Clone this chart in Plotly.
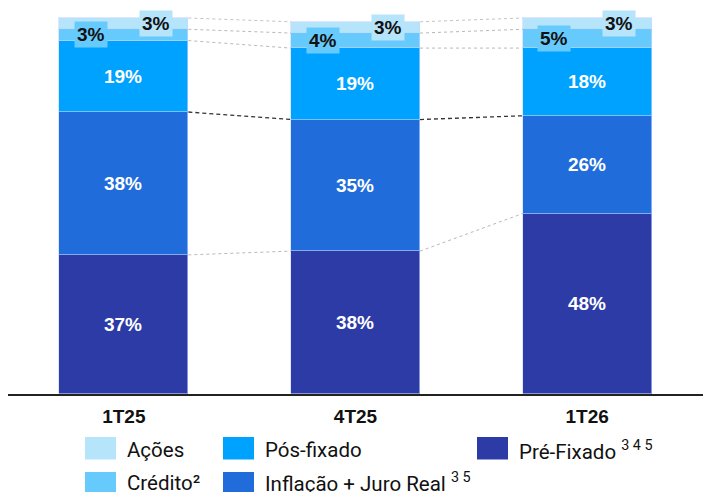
import plotly.graph_objects as go

# Quarters and allocation (% of portfolio) by asset class
periods = ["1T25", "4T25", "1T26"]
pre_fixado = [37, 38, 48]
inflacao = [38, 35, 26]
pos_fixado = [19, 19, 18]
credito = [3, 4, 5]
acoes = [3, 3, 3]

series = [
    ("Pré-Fixado <sup>3 4 5</sup>", pre_fixado, "#2D3BA6"),
    ("Inflação + Juro Real <sup>3 5</sup>", inflacao, "#216CDB"),
    ("Pós-fixado", pos_fixado, "#00A2FF"),
    ("Crédito²", credito, "#66CBFC"),
    ("Ações", acoes, "#B5E4FB"),
]

BAR_W = 0.557
LABEL_FONT = "Liberation Sans, Arial, sans-serif"
LEGEND_FONT = "Roboto, sans-serif"

xs = list(range(len(periods)))
fig = go.Figure()

# stacked bars; the three large classes carry their own inside labels
for i, (name, vals, color) in enumerate(series):
    big = i < 3
    fig.add_trace(go.Bar(
        x=xs, y=vals, name=name, width=BAR_W,
        marker=dict(color=color, line=dict(color="rgba(200,215,255,0.6)", width=1)),
        text=[f"{v}%" for v in vals] if big else None,
        textposition="inside" if big else "none",
        insidetextanchor="middle",
        textangle=0,
        constraintext="none",
        textfont=dict(family=LABEL_FONT, size=19, color="white", weight="bold"),
        hoverinfo="skip",
        showlegend=False,
    ))

# cumulative boundaries for the connector lines between bars
cum = []
running = [0] * len(periods)
for _, vals, _ in series:
    running = [r + v for r, v in zip(running, vals)]
    cum.append(list(running))

conn_styles = [
    dict(color="#b8b8b8", width=1, dash="dot"),
    dict(color="#333333", width=1.3, dash="4px,3px"),
    dict(color="#b8b8b8", width=1, dash="dot"),
    dict(color="#b8b8b8", width=1, dash="dot"),
    dict(color="#c4c4c4", width=1, dash="dot"),
]
for lvl, style in enumerate(conn_styles):
    for j in range(len(periods) - 1):
        fig.add_trace(go.Scatter(
            x=[xs[j] + BAR_W / 2, xs[j + 1] - BAR_W / 2],
            y=[cum[lvl][j], cum[lvl][j + 1]],
            mode="lines", line=style, hoverinfo="skip", showlegend=False,
        ))

# small-segment labels with tinted boxes (Crédito left, Ações right)
annotations = []
base_cred = cum[2]
base_acoes = cum[3]
for j in xs:
    annotations.append(dict(
        x=xs[j], y=base_cred[j] + credito[j] / 2, xref="x", yref="y",
        xshift=-33, text=f"{credito[j]}%", showarrow=False,
        font=dict(family=LABEL_FONT, size=19, color="#111111", weight="bold"),
        bgcolor=series[3][2], borderpad=2,
    ))
    annotations.append(dict(
        x=xs[j], y=base_acoes[j] + acoes[j] / 2, xref="x", yref="y",
        xshift=32, text=f"{acoes[j]}%", showarrow=False,
        font=dict(family=LABEL_FONT, size=19, color="#111111", weight="bold"),
        bgcolor=series[4][2], borderpad=2,
    ))

# custom legend: two rows, swatch + text (positions in pixels)
W, H = 703, 492
PL, PT, PH = 8, 10, 384  # plot-area left, top, height
PW = W - PL
# (text, colour, swatch left, swatch top, text centre)
legend_items = [
    ("Ações", series[4][2], 85, 437, 450),
    ("Crédito²", series[3][2], 85, 472, 482.5),
    ("Pós-fixado", series[2][2], 223, 437, 450),
    ("Inflação + Juro Real <sup>3 5</sup>", series[1][2], 223, 472, 482.5),
    ("Pré-Fixado <sup>3 4 5</sup>", series[0][2], 477, 437, 450),
]
SW, SH = 31, 22.5


def px_x(px):
    return (px - PL) / PW


def px_y(py):
    return (PT + PH - py) / PH


shapes = []
for text, color, px, py, ty in legend_items:
    shapes.append(dict(
        type="rect", xref="paper", yref="paper",
        x0=px_x(px), x1=px_x(px + SW),
        y0=px_y(py), y1=px_y(py + SH),
        fillcolor=color, line=dict(width=0), layer="above",
    ))
    annotations.append(dict(
        x=px_x(px + SW + 9), y=px_y(ty),
        xref="paper", yref="paper", xanchor="left", yanchor="middle",
        text=text, showarrow=False,
        font=dict(family=LEGEND_FONT, size=20.5, color="#111111"),
    ))

fig.update_layout(
    width=W, height=H,
    margin=dict(l=PL, r=0, t=PT, b=H - PT - PH),
    barmode="stack",
    bargap=0,
    plot_bgcolor="white", paper_bgcolor="white",
    showlegend=False,
    shapes=shapes,
    annotations=annotations,
    xaxis=dict(
        range=[-0.5, 2.5], tickvals=xs, ticktext=periods,
        showgrid=False, zeroline=False, ticks="",
        showline=True, linecolor="#222222", linewidth=2,
        tickfont=dict(family=LABEL_FONT, size=19, color="#111111", weight="bold"),
        ticklabelstandoff=4, fixedrange=True,
    ),
    yaxis=dict(
        range=[0, 102.13], visible=False, showgrid=False, zeroline=False,
        fixedrange=True,
    ),
)

fig.write_html("out.html")
